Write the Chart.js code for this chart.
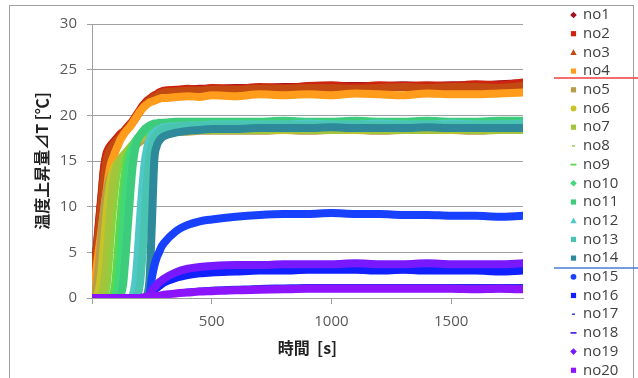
<!DOCTYPE html>
<html>
<head>
<meta charset="utf-8">
<script src="https://cdn.jsdelivr.net/npm/chart.js@4.4.0/dist/chart.umd.min.js"></script>
<style>
  html, body { margin: 0; padding: 0; background: #fff; overflow: hidden; }
  #wrap { position: relative; width: 638px; height: 378px; overflow: hidden; }
  #frame { position: absolute; left: 9px; top: 5px; width: 623px; height: 400px; border: 1px solid #a0a0a0; }
  canvas { position: absolute; left: 0; top: 0; }
</style>
</head>
<body>
<div id="wrap">
  <div id="frame"></div>
  <canvas id="canvas" width="638" height="378"></canvas>
</div>
<script>
// time [s]
const times = [0, 10, 20, 30, 40, 50, 60, 70, 80, 90, 100, 110, 120, 130, 140, 150, 160, 170, 180, 190,
  200, 210, 220, 230, 240, 250, 260, 270, 280, 290, 300, 350, 400, 450, 500,
  600, 700, 800, 900, 1000, 1100, 1200, 1300, 1400, 1500, 1600, 1700, 1800];

const xTicks = [0, 500, 1000, 1500];

const seriesNames = ['no1', 'no2', 'no3', 'no4', 'no5', 'no6', 'no7', 'no8', 'no9', 'no10',
  'no11', 'no12', 'no13', 'no14', 'no15', 'no16', 'no17', 'no18', 'no19', 'no20'];

// temperature rise [C]
const no1 = [0, 2.7, 5.5, 8.3, 11.1, 14.0, 15.6, 16.3, 16.7, 17.0,
  17.3, 17.6, 17.9, 18.1, 18.4, 18.7, 19.0, 19.3, 19.7, 20.1,
  20.5, 20.9, 21.2, 21.5, 21.7, 21.9, 22.1, 22.2, 22.4, 22.5, 22.6,
  22.7, 22.8, 22.9, 22.9,
  23.0, 23.0, 23.1, 23.1, 23.2, 23.2, 23.2, 23.3, 23.2, 23.3, 23.3, 23.4, 23.5];
const no2 = [0, 2.9, 5.7, 8.6, 11.4, 14.3, 15.8, 16.4, 16.8, 17.1,
  17.4, 17.7, 18.0, 18.2, 18.5, 18.8, 19.1, 19.4, 19.8, 20.2,
  20.6, 21.0, 21.3, 21.6, 21.8, 22.0, 22.2, 22.3, 22.5, 22.6, 22.7,
  22.8, 22.9, 22.8, 23.0,
  22.9, 23.1, 23.0, 23.2, 23.3, 23.1, 23.3, 23.2, 23.3, 23.2, 23.4, 23.3, 23.6];
const no3 = [0, 2.4, 5.0, 7.7, 10.4, 13.0, 15.0, 15.9, 16.4, 16.8,
  17.1, 17.4, 17.7, 18.0, 18.3, 18.6, 18.9, 19.2, 19.6, 20.0,
  20.4, 20.8, 21.1, 21.4, 21.6, 21.8, 22.0, 22.1, 22.3, 22.4, 22.5,
  22.6, 22.7, 22.7, 22.8,
  22.8, 22.9, 22.9, 23.0, 23.0, 22.9, 23.0, 23.1, 23.0, 23.1, 23.1, 23.0, 23.2];
const no4 = [0, 1.5, 3.5, 5.5, 7.5, 9.5, 11.5, 13.5, 14.8, 15.5,
  16.2, 16.8, 17.4, 17.8, 18.2, 18.5, 18.8, 19.2, 19.6, 20.0,
  20.4, 20.7, 21.0, 21.2, 21.4, 21.5, 21.6, 21.7, 21.8, 21.9, 21.9,
  22.0, 22.1, 22.0, 22.2,
  22.1, 22.3, 22.2, 22.3, 22.2, 22.4, 22.3, 22.2, 22.4, 22.3, 22.3, 22.4, 22.5];
const no5 = [0, 0.3, 1.5, 4.0, 7.0, 9.5, 11.5, 12.8, 13.5, 13.9,
  14.2, 14.5, 14.8, 15.1, 15.4, 15.7, 16.0, 16.3, 16.6, 16.9,
  17.1, 17.3, 17.5, 17.6, 17.7, 17.8, 17.9, 18.0, 18.0, 18.1, 18.1,
  18.2, 18.2, 18.3, 18.3,
  18.3, 18.3, 18.4, 18.3, 18.4, 18.4, 18.3, 18.4, 18.4, 18.4, 18.3, 18.4, 18.4];
const no6 = [0, 0, 0.2, 1.0, 3.0, 6.0, 9.0, 11.5, 13.2, 14.1,
  14.6, 14.9, 15.2, 15.5, 15.8, 16.1, 16.4, 16.7, 17.0, 17.2,
  17.4, 17.6, 17.7, 17.8, 17.9, 18.0, 18.1, 18.1, 18.2, 18.2, 18.3,
  18.3, 18.3, 18.4, 18.4,
  18.4, 18.4, 18.4, 18.5, 18.4, 18.4, 18.4, 18.5, 18.4, 18.4, 18.5, 18.4, 18.4];
const no7 = [0, 0, 0, 0, 0.3, 1.5, 4.0, 7.5, 10.5, 12.8,
  14.2, 14.9, 15.3, 15.6, 15.9, 16.2, 16.5, 16.8, 17.1, 17.3,
  17.5, 17.7, 17.8, 17.9, 18.0, 18.1, 18.1, 18.2, 18.2, 18.3, 18.3,
  18.3, 18.4, 18.4, 18.4,
  18.4, 18.4, 18.5, 18.4, 18.4, 18.5, 18.4, 18.4, 18.4, 18.5, 18.4, 18.4, 18.4];
const no8 = [0, 0, 0, 0, 0, 0, 0.3, 1.5, 4.5, 8.0,
  11.0, 13.3, 14.8, 15.5, 15.9, 16.3, 16.6, 16.9, 17.2, 17.4,
  17.6, 17.8, 17.9, 18.0, 18.1, 18.2, 18.2, 18.3, 18.3, 18.3, 18.4,
  18.4, 18.4, 18.5, 18.5,
  18.5, 18.4, 18.5, 18.5, 18.5, 18.4, 18.5, 18.5, 18.5, 18.5, 18.4, 18.5, 18.5];
const no9 = [0, 0, 0, 0, 0, 0, 0, 0, 0.3, 1.5,
  4.5, 8.0, 11.0, 13.5, 15.2, 16.0, 16.5, 16.9, 17.2, 17.5,
  17.7, 17.9, 18.0, 18.1, 18.2, 18.3, 18.3, 18.4, 18.4, 18.4, 18.5,
  18.5, 18.5, 18.5, 18.6,
  18.6, 18.5, 18.6, 18.6, 18.6, 18.5, 18.6, 18.6, 18.6, 18.6, 18.5, 18.6, 18.6];
const no10 = [0, 0, 0, 0, 0, 0, 0, 0, 0, 0,
  0.3, 1.5, 4.5, 8.0, 11.5, 14.0, 15.6, 16.5, 17.1, 17.5,
  17.8, 18.1, 18.3, 18.5, 18.6, 18.7, 18.8, 18.8, 18.9, 18.9, 19.0,
  19.0, 19.1, 19.1, 19.1,
  19.1, 19.2, 19.1, 19.2, 19.2, 19.1, 19.2, 19.2, 19.2, 19.1, 19.2, 19.2, 19.2];
const no11 = [0, 0, 0, 0, 0, 0, 0, 0, 0, 0,
  0, 0, 0.3, 1.5, 4.5, 8.0, 11.5, 14.5, 16.3, 17.2,
  17.8, 18.2, 18.5, 18.7, 18.9, 19.0, 19.1, 19.1, 19.2, 19.2, 19.2,
  19.3, 19.3, 19.3, 19.3,
  19.3, 19.3, 19.4, 19.3, 19.3, 19.4, 19.3, 19.3, 19.4, 19.3, 19.3, 19.4, 19.4];
const no12 = [0, 0, 0, 0, 0, 0, 0, 0, 0, 0,
  0, 0, 0, 0, 0, 0, 0, 0.3, 1.5, 4.5,
  8.5, 12.0, 14.8, 16.4, 17.3, 17.8, 18.1, 18.3, 18.5, 18.6, 18.7,
  18.8, 18.9, 18.9, 19.0,
  19.0, 19.0, 19.0, 19.1, 19.0, 19.0, 19.1, 19.0, 19.0, 19.1, 19.0, 19.0, 19.1];
const no13 = [0, 0, 0, 0, 0, 0, 0, 0, 0, 0,
  0, 0, 0, 0, 0, 0, 0, 0, 0, 0.3,
  1.5, 4.5, 8.5, 12.5, 15.3, 16.8, 17.5, 17.9, 18.2, 18.4, 18.5,
  18.7, 18.8, 18.8, 18.9,
  18.9, 18.9, 19.0, 18.9, 18.9, 19.0, 18.9, 18.9, 19.0, 18.9, 18.9, 19.0, 19.0];
const no14 = [0, 0, 0, 0, 0, 0, 0, 0, 0, 0,
  0, 0, 0, 0, 0, 0, 0, 0, 0, 0,
  0, 0, 0, 0.3, 2.0, 8.0, 15.0, 16.6, 17.2, 17.5, 17.7,
  18.1, 18.3, 18.4, 18.5,
  18.5, 18.6, 18.6, 18.6, 18.7, 18.6, 18.6, 18.6, 18.7, 18.6, 18.6, 18.6, 18.6];
const no15 = [0, 0, 0, 0, 0, 0, 0, 0, 0, 0,
  0, 0, 0, 0, 0, 0, 0, 0, 0, 0,
  0, 0, 0, 0.1, 0.3, 2.2, 3.5, 4.4, 5.0, 5.6, 6.0,
  7.3, 8.0, 8.4, 8.6,
  8.9, 9.1, 9.2, 9.2, 9.3, 9.2, 9.2, 9.1, 9.1, 9.0, 9.0, 8.9, 9.0];
const no16 = [0, 0, 0, 0, 0, 0, 0, 0, 0, 0,
  0, 0, 0, 0, 0, 0, 0, 0, 0, 0,
  0, 0, 0, 0.1, 0.3, 0.6, 0.9, 1.1, 1.3, 1.5, 1.7,
  2.2, 2.5, 2.7, 2.8,
  2.9, 3.0, 3.0, 3.1, 3.1, 3.1, 3.0, 3.1, 3.0, 3.0, 3.0, 2.9, 3.0];
const no17 = [0, 0, 0, 0, 0, 0, 0, 0, 0, 0,
  0, 0, 0, 0, 0, 0, 0, 0, 0, 0,
  0, 0, 0, 0, 0.1, 0.2, 0.25, 0.3, 0.35, 0.4, 0.45,
  0.7, 0.9, 1.0, 1.1,
  1.2, 1.3, 1.35, 1.4, 1.4, 1.4, 1.4, 1.4, 1.4, 1.4, 1.4, 1.4, 1.4];
const no18 = [0, 0, 0, 0, 0, 0, 0, 0, 0, 0,
  0, 0, 0, 0, 0, 0, 0, 0, 0, 0,
  0, 0, 0, 0, 0.1, 0.15, 0.2, 0.25, 0.3, 0.35, 0.4,
  0.6, 0.8, 0.9, 1.0,
  1.1, 1.2, 1.25, 1.3, 1.3, 1.3, 1.3, 1.3, 1.3, 1.3, 1.3, 1.3, 1.3];
const no19 = [0, 0, 0, 0, 0, 0, 0, 0, 0, 0,
  0, 0, 0, 0, 0, 0, 0, 0, 0, 0,
  0, 0, 0, 0.1, 0.4, 0.8, 1.1, 1.4, 1.7, 1.9, 2.1,
  2.8, 3.2, 3.4, 3.5,
  3.6, 3.6, 3.7, 3.7, 3.7, 3.8, 3.7, 3.7, 3.8, 3.7, 3.7, 3.7, 3.8];
const no20 = [0, 0, 0, 0, 0, 0, 0, 0, 0, 0,
  0, 0, 0, 0, 0, 0, 0, 0, 0, 0,
  0, 0.05, 0.1, 0.12, 0.15, 0.18, 0.2, 0.22, 0.25, 0.3, 0.35,
  0.5, 0.6, 0.7, 0.75,
  0.85, 0.9, 0.95, 1.0, 1.0, 1.0, 1.0, 1.0, 1.0, 1.0, 0.95, 1.0, 0.95];

const seriesValues = [no1, no2, no3, no4, no5, no6, no7, no8, no9, no10,
  no11, no12, no13, no14, no15, no16, no17, no18, no19, no20];

// styles
const colors = ['#a0141e', '#cc2410', '#c24a12', '#ff9c1c', '#b89c48', '#c8c428', '#a4c43c', '#8cd040', '#5cd84c', '#40d878',
  '#3ccc7c', '#50c8c8', '#48c4b0', '#2e8a9a', '#1840ff', '#1020ff', '#2828e8', '#5028f0', '#7818ff', '#8c14ff'];
const markers = ['diamond', 'rect', 'triangle', 'rect', 'rect', 'circle', 'rect', 'dashShort', 'dash', 'diamond',
  'rect', 'triangle', 'rect', 'rect', 'circle', 'rect', 'dashShort', 'dash', 'diamond', 'rect'];
const lineWidths = [8, 8, 8, 8, 8, 8, 8, 4, 5, 8, 8, 8, 8, 8, 8, 8, 2.5, 3, 8, 8];

const labelFont = '"Open Sans", "Noto Sans", sans-serif';
const titleFont = '"Noto Sans CJK JP", "Open Sans", sans-serif';

function drawMarker(ctx, style, x, y, color) {
  ctx.fillStyle = color;
  ctx.beginPath();
  if (style === 'rect') {
    ctx.rect(x - 2.6, y - 2.6, 5.2, 5.2);
  } else if (style === 'diamond') {
    ctx.moveTo(x, y - 3.3); ctx.lineTo(x + 3.3, y); ctx.lineTo(x, y + 3.3); ctx.lineTo(x - 3.3, y);
  } else if (style === 'triangle') {
    ctx.moveTo(x, y - 3.2); ctx.lineTo(x + 3.2, y + 2.6); ctx.lineTo(x - 3.2, y + 2.6);
  } else if (style === 'circle') {
    ctx.arc(x, y, 2.9, 0, Math.PI * 2);
  } else if (style === 'dashShort') {
    ctx.rect(x - 1.5, y - 0.7, 3, 1.4);
  } else if (style === 'dash') {
    ctx.rect(x - 3, y - 0.9, 6, 1.8);
  }
  ctx.closePath();
  ctx.fill();
}

const sideLegend = {
  id: 'sideLegend',
  afterDraw(chart) {
    const ctx = chart.ctx;
    ctx.save();
    ctx.lineWidth = 1.5;
    ctx.strokeStyle = '#f03c3c';
    ctx.beginPath(); ctx.moveTo(554, 78); ctx.lineTo(638, 78); ctx.stroke();
    ctx.strokeStyle = '#4a7cd0';
    ctx.beginPath(); ctx.moveTo(554, 268); ctx.lineTo(638, 268); ctx.stroke();
    ctx.font = '15px ' + labelFont;
    ctx.textBaseline = 'middle';
    ctx.textAlign = 'left';
    chart.data.datasets.forEach((ds, i) => {
      const y = 15 + i * 18.7;
      drawMarker(ctx, markers[i], 573.5, y, colors[i]);
      ctx.fillStyle = '#404040';
      ctx.fillText(ds.label, 583, y);
    });
    ctx.restore();
  }
};

const datasets = seriesValues.map((vals, i) => ({
  label: seriesNames[i],
  data: vals.map((v, j) => ({x: times[j], y: v})),
  borderColor: colors[i],
  backgroundColor: colors[i],
  borderWidth: lineWidths[i],
  pointRadius: 0,
  fill: false,
  cubicInterpolationMode: 'monotone',
  borderJoinStyle: 'round',
  borderCapStyle: 'round',
  order: 20 - i
}));

const ctx = document.getElementById('canvas').getContext('2d');
const chart = new Chart(ctx, {
  type: 'line',
  data: { datasets: datasets },
  options: {
    responsive: false,
    animation: false,
    devicePixelRatio: 1,
    layout: { padding: { left: 0, right: 115, top: 24, bottom: 0 } },
    plugins: {
      legend: { display: false },
      tooltip: { enabled: false }
    },
    scales: {
      x: {
        type: 'linear',
        min: 0,
        max: 1800,
        afterBuildTicks: (s) => { s.ticks = xTicks.map(v => ({value: v})); },
        afterFit: (s) => { s.height = 80; },
        ticks: {
          callback: (v) => v === 0 ? '' : String(v),
          font: { family: labelFont, size: 15 },
          color: '#595959',
          padding: 9,
          maxRotation: 0,
          autoSkip: false
        },
        grid: { drawOnChartArea: false, tickLength: 6, color: '#a0a0a0' },
        border: { color: '#a0a0a0' },
        title: {
          display: true,
          text: '時間  [s]',
          font: { family: titleFont, size: 16, weight: 'bold' },
          color: '#222222',
          padding: { top: 0, bottom: 20.4 }
        }
      },
      y: {
        min: 0,
        max: 30,
        afterFit: (s) => { s.width = 92; },
        ticks: {
          stepSize: 5,
          font: { family: labelFont, size: 15 },
          color: '#595959',
          padding: 10
        },
        grid: { color: '#a0a0a0', tickLength: 5 },
        border: { color: '#a0a0a0' },
        title: {
          display: true,
          text: '温度上昇量⊿T [℃]',
          font: { family: titleFont, size: 16, weight: 'bold' },
          color: '#222222',
          padding: { top: 32.4, bottom: 0 }
        }
      }
    }
  },
  plugins: [sideLegend]
});
</script>
</body>
</html>
